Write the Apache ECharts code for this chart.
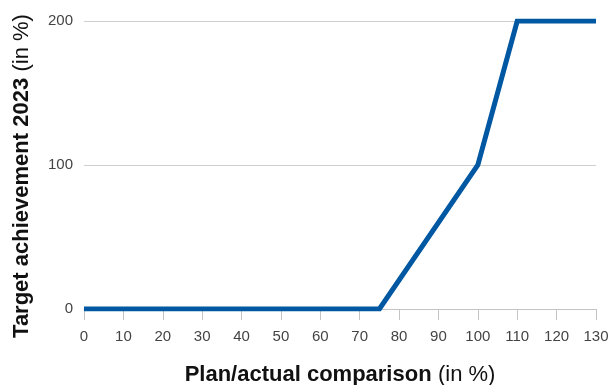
<!DOCTYPE html>
<html>
<head>
<meta charset="utf-8">
<script src="https://cdn.jsdelivr.net/npm/echarts@6/dist/echarts.min.js"></script>
<style>
  html, body { margin: 0; padding: 0; background: #fff; }
  #chart { width: 611px; height: 385px; }
</style>
</head>
<body>
<div id="chart"></div>
<script>
// plan/actual comparison (x, in %) -> target achievement (y, in %)
const planActual = [0, 75, 100, 110, 130];
const achievement = [0, 0, 100, 200, 200];
const xTicks = { min: 0, max: 130, step: 10 };
const yTicks = { min: 0, max: 200, step: 100 };

const chart = echarts.init(document.getElementById('chart'));
const font = 'Liberation Sans, Arial, Helvetica, sans-serif';

// shared rich styles for the two axis titles (bold part + unit)
const titleRich = {
    b: { fontFamily: font, fontSize: 22, fontWeight: 'bold', color: '#111' },
    n: { fontFamily: font, fontSize: 22, color: '#111', padding: [0, 0, 0, 3] }
};

const option = {
    animation: false,
    grid: { left: 84, right: 15, top: 21, bottom: 76, containLabel: false, outerBoundsMode: 'none' },
    xAxis: {
        type: 'value',
        min: xTicks.min,
        max: xTicks.max,
        interval: xTicks.step,
        name: '{b|Plan/actual comparison} {n|(in %)}',
        nameLocation: 'middle',
        nameGap: 55,
        nameTextStyle: { rich: titleRich },
        axisLine: { lineStyle: { color: '#c4c4c4', width: 1 } },
        axisTick: { show: true, length: 11, lineStyle: { color: '#c4c4c4' } },
        axisLabel: { fontFamily: font, fontSize: 15, color: '#444', margin: 20 },
        splitLine: { show: false }
    },
    yAxis: {
        type: 'value',
        min: yTicks.min,
        max: yTicks.max,
        interval: yTicks.step,
        name: '{b|Target achievement 2023} {n|(in %)}',
        nameLocation: 'middle',
        nameGap: 51,
        nameRotate: 90,
        nameTextStyle: { rich: titleRich, padding: [0, 22, 0, 0] },
        axisLine: { show: false },
        axisTick: { show: false },
        axisLabel: { fontFamily: font, fontSize: 15, color: '#444', margin: 11 },
        splitLine: { show: true, lineStyle: { color: '#cfcfcf', width: 1 } }
    },
    series: [{
        type: 'line',
        data: planActual.map((x, i) => [x, achievement[i]]),
        symbol: 'none',
        lineStyle: { color: '#0057a2', width: 5, join: 'miter' },
        z: 5
    }]
};

chart.setOption(option);
</script>
</body>
</html>
